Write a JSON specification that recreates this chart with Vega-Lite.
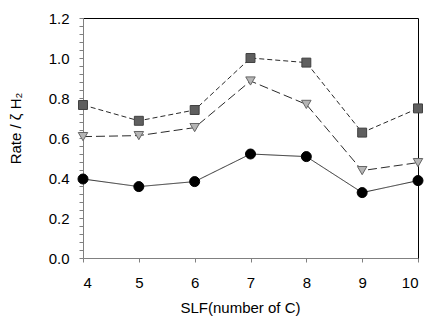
{
  "$schema": "https://vega.github.io/schema/vega-lite/v6.json",
  "width": 335,
  "height": 240,
  "autosize": {"type": "none"},
  "padding": {"left": 83, "top": 18, "right": 18, "bottom": 74},
  "config": {
    "view": {"stroke": null},
    "font": "Liberation Sans",
    "axis": {
      "grid": false,
      "domainColor": "#808080",
      "tickColor": "#808080",
      "labelColor": "#000000",
      "titleColor": "#000000",
      "labelFontSize": 15,
      "titleFontSize": 15,
      "titleFontWeight": "normal",
      "labelFont": "Liberation Sans",
      "titleFont": "Liberation Sans"
    }
  },
  "data": {
    "values": [
      {"n": 4, "series": "A", "rate": 0.765},
      {"n": 5, "series": "A", "rate": 0.686},
      {"n": 6, "series": "A", "rate": 0.74},
      {"n": 7, "series": "A", "rate": 1.0},
      {"n": 8, "series": "A", "rate": 0.977},
      {"n": 9, "series": "A", "rate": 0.627},
      {"n": 10, "series": "A", "rate": 0.748},
      {"n": 4, "series": "B", "rate": 0.607},
      {"n": 5, "series": "B", "rate": 0.612},
      {"n": 6, "series": "B", "rate": 0.652},
      {"n": 7, "series": "B", "rate": 0.885},
      {"n": 8, "series": "B", "rate": 0.768},
      {"n": 9, "series": "B", "rate": 0.437},
      {"n": 10, "series": "B", "rate": 0.477},
      {"n": 4, "series": "C", "rate": 0.395},
      {"n": 5, "series": "C", "rate": 0.357},
      {"n": 6, "series": "C", "rate": 0.382},
      {"n": 7, "series": "C", "rate": 0.52},
      {"n": 8, "series": "C", "rate": 0.507},
      {"n": 9, "series": "C", "rate": 0.327},
      {"n": 10, "series": "C", "rate": 0.387}
    ]
  },
  "layer": [
    {
      "mark": {"type": "line", "strokeWidth": 1, "color": "#2a2a2a"},
      "encoding": {
        "x": {
          "field": "n", "type": "quantitative",
          "scale": {"domain": [4, 10], "nice": false, "zero": false},
          "axis": {
            "values": [4, 5, 6, 7, 8, 9, 10],
            "format": "d",
            "tickSize": 4,
            "labelPadding": 13,
            "title": "SLF(number of C)",
            "titlePadding": 10,
            "titleX": 157
          }
        },
        "y": {
          "field": "rate", "type": "quantitative",
          "scale": {"domain": [0, 1.2], "nice": false},
          "axis": {
            "values": [0, 0.04, 0.08, 0.12, 0.16, 0.2, 0.24, 0.28, 0.32, 0.36, 0.4, 0.44, 0.48, 0.52, 0.56, 0.6, 0.64, 0.68, 0.72, 0.76, 0.8, 0.84, 0.88, 0.92, 0.96, 1.0, 1.04, 1.08, 1.12, 1.16, 1.2],
            "labelExpr": "abs(datum.value*5 - round(datum.value*5)) < 0.000001 ? format(datum.value, '.1f') : ''",
            "labelOverlap": false,
            "tickSize": 4,
            "labelPadding": 10,
            "title": "Rate / ζ H₂",
            "titlePadding": 25,
            "titleY": 110
          }
        },
        "detail": {"field": "series"},
        "strokeDash": {
          "field": "series", "type": "nominal",
          "scale": {"domain": ["A", "B", "C"], "range": [[5, 3], [9, 4], [1, 0]]},
          "legend": null
        }
      }
    },
    {
      "mark": {"type": "point", "filled": true, "opacity": 1, "strokeWidth": 1},
      "encoding": {
        "x": {"field": "n", "type": "quantitative", "axis": null},
        "y": {"field": "rate", "type": "quantitative", "axis": null},
        "shape": {
          "field": "series", "type": "nominal",
          "scale": {"domain": ["A", "B", "C"], "range": ["square", "triangle-down", "circle"]},
          "legend": null
        },
        "fill": {
          "field": "series", "type": "nominal",
          "scale": {"domain": ["A", "B", "C"], "range": ["#5f5f5f", "#b5b5b5", "#000000"]},
          "legend": null
        },
        "stroke": {
          "field": "series", "type": "nominal",
          "scale": {"domain": ["A", "B", "C"], "range": ["#404040", "#666666", "#000000"]},
          "legend": null
        },
        "size": {
          "field": "series", "type": "nominal",
          "scale": {"domain": ["A", "B", "C"], "range": [80, 100, 95]},
          "legend": null
        }
      }
    },
    {
      "mark": {"type": "point", "opacity": 0},
      "encoding": {
        "x": {
          "field": "n", "type": "quantitative",
          "axis": {"orient": "top", "labels": false, "ticks": false, "title": null, "domainColor": "#000000"}
        },
        "y": {
          "field": "rate", "type": "quantitative",
          "axis": {"orient": "right", "labels": false, "ticks": false, "title": null, "domainColor": "#000000"}
        }
      }
    }
  ],
  "resolve": {"axis": {"x": "independent", "y": "independent"}}
}
